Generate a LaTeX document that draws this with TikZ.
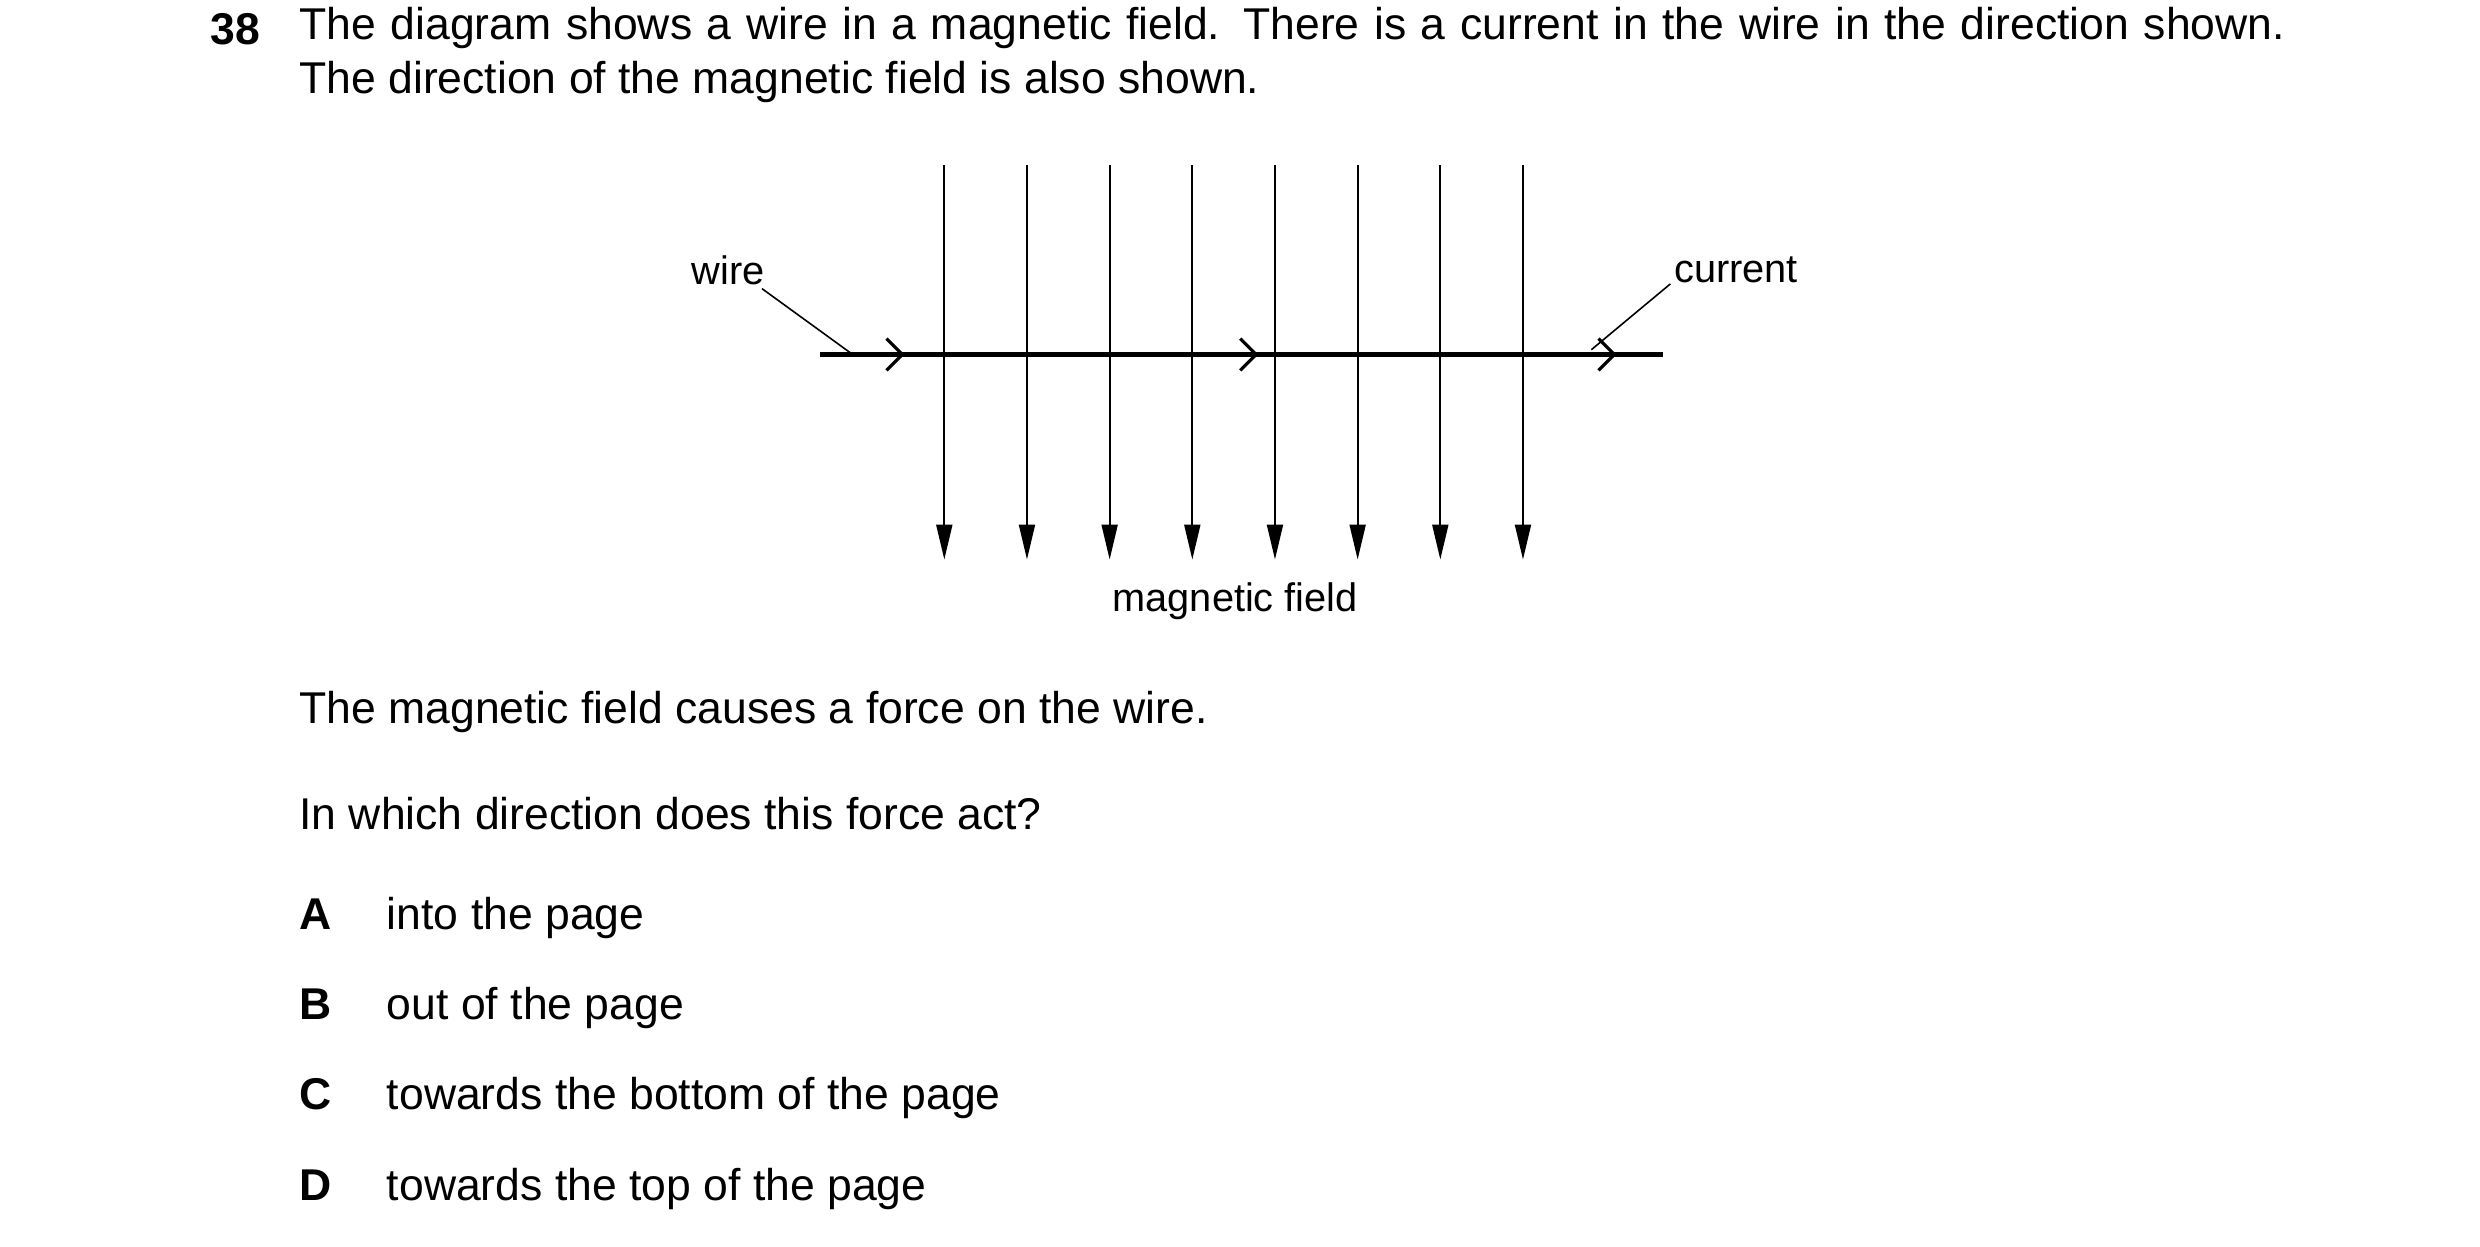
\documentclass[tikz,border=0pt]{standalone}
\usepackage{fontspec}
\setmainfont{Liberation Sans}
\usetikzlibrary{positioning, arrows.meta, decorations.markings}
\begin{document}
\begin{tikzpicture}[
      x=0.5pt, y=-0.5pt,
      body/.style={anchor=base west, inner sep=0pt, font=\fontsize{14}{17}\selectfont},
      label/.style={inner sep=0pt, font=\fontsize{12.5}{15}\selectfont},
      field/.style={line width=0.7pt, -{Triangle[length=11pt,width=5pt]}},
      wire/.style={line width=1.6pt, postaction={decorate}, decoration={markings,
        mark=at position 0.1 with {\arrow{Straight Barb[length=5pt,width=10pt,line width=1pt]}},
        mark=at position 0.52 with {\arrow{Straight Barb[length=5pt,width=10pt,line width=1pt]}},
        mark=at position 0.945 with {\arrow{Straight Barb[length=5pt,width=10pt,line width=1pt]}}}},
      ]
      \useasboundingbox (0,0) rectangle (1560,784.4);
      % question
      \node[body, font=\fontsize{14}{17}\selectfont\bfseries] (num) at (132,28) {38};
      \node[body, anchor=north west, text width=624.5pt, align=justify] (stem) at (188,4)
        {The diagram shows a wire in a magnetic field. There is a current in the wire in the direction shown. The direction of the magnetic field is also shown.};
      % field lines
      \foreach \i in {0,...,7} {
        \coordinate (top\i) at (594+52*\i,104);
        \coordinate (bot\i) at (594+52*\i,352);
        \draw[field] (top\i) -- (bot\i);
      }
      % wire
      \coordinate (wstart) at (516,223);
      \coordinate (wend) at (1046,223);
      \draw[wire] (wstart) -- (wend);
      \node[label] (wire) at (458,170) {wire};
      \node[label] (current) at (1092,170) {current};
      \coordinate (wtip) at (535,222);
      \coordinate (ctip) at (1001,220);
      \draw[line width=0.5pt] (wire.south east) ++(-2,2) -- (wtip);
      \draw[line width=0.5pt] (current.south west) ++(-2,0) -- (ctip);
      \node[label] (mag) at (777,378) {magnetic field};
      % options
      \node[body] (cause) at (188,455) {The magnetic field causes a force on the wire.};
      \node[body] (ask) at (188,522) {In which direction does this force act?};
      \foreach \y/\l/\t [count=\k] in {585/A/into the page, 641/B/out of the page,
          698/C/towards the bottom of the page, 755/D/towards the top of the page} {
        \node[body, font=\fontsize{14}{17}\selectfont\bfseries] (key\k) at (188,\y) {\l};
        \node[body] (opt\k) at (243,\y) {\t};
      }
    \end{tikzpicture}
\end{document}
